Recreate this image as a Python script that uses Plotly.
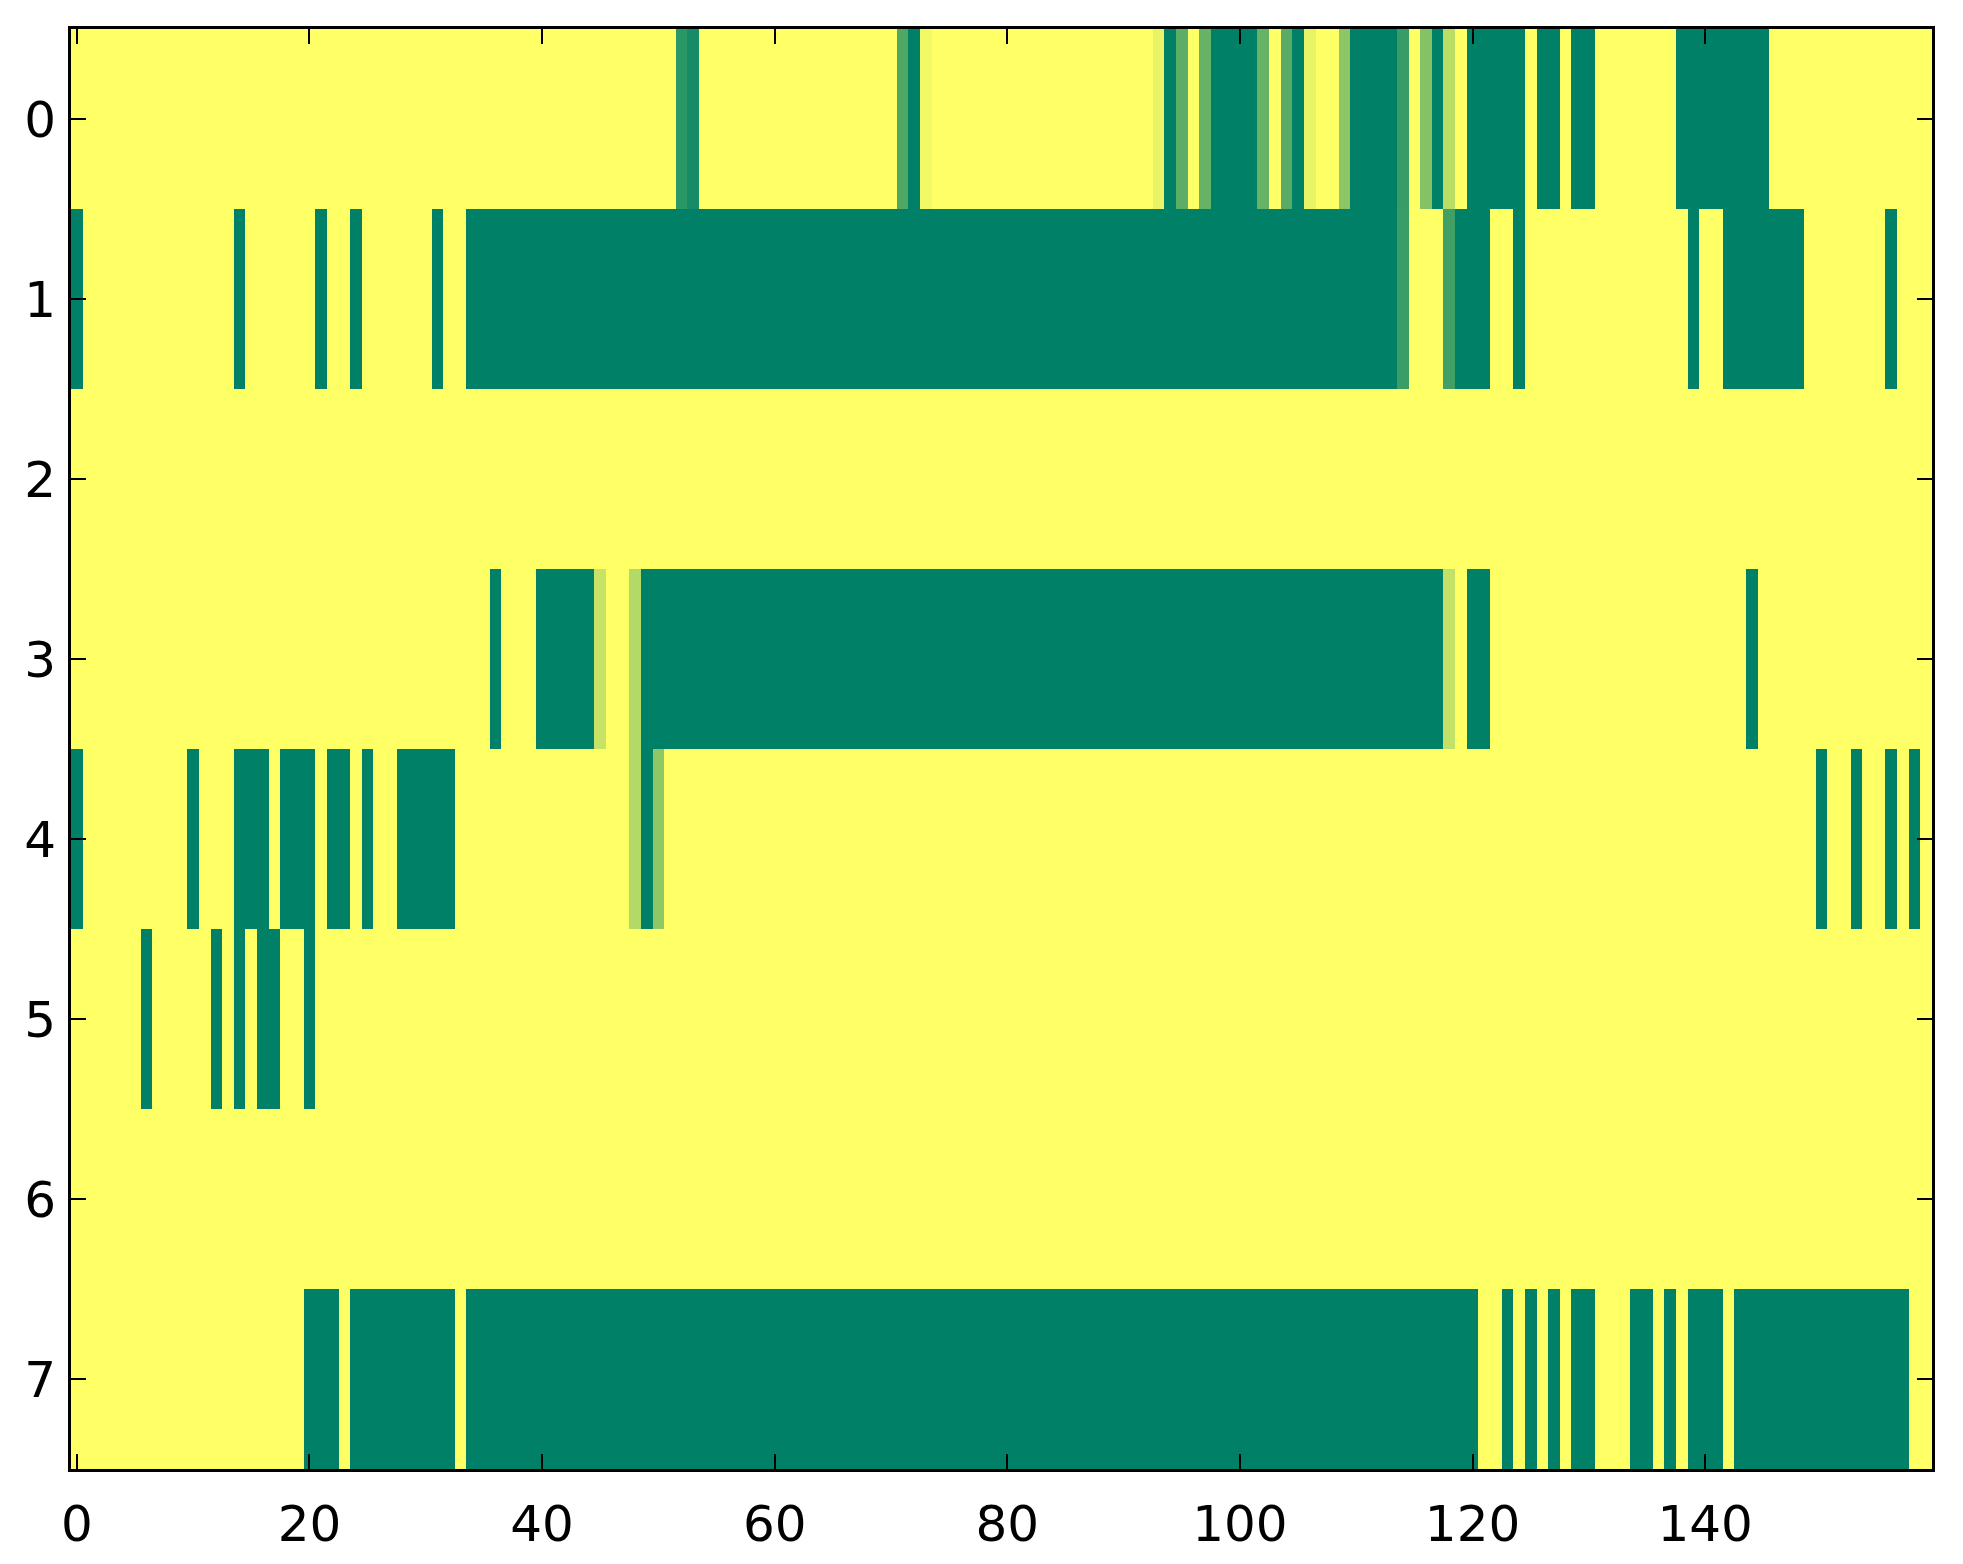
import plotly.graph_objects as go

# Each row is a run-length list of [value, count] (160 columns, 0..159)
row0_runs = [[1, 52], [0.17, 1], [0.09, 1], [1, 17], [0.31, 1], [0, 1], [0.95, 1], [1, 19],
             [0.91, 1], [0, 1], [0.36, 1], [1, 1], [0.4, 1], [0, 4], [0.4, 1], [1, 1], [0.35, 1],
             [0, 1], [0.91, 1], [1, 2], [0.55, 1], [0, 4], [0.22, 1], [1, 1], [0.52, 1], [0, 1],
             [0.73, 1], [1, 1], [0, 5], [1, 1], [0, 2], [1, 1], [0, 2], [1, 7], [0, 8], [1, 14]]
row1_runs = [[0, 1], [1, 13], [0, 1], [1, 6], [0, 1], [1, 2], [0, 1], [1, 6], [0, 1], [1, 2],
             [0, 80], [0.23, 1], [1, 3], [0.25, 1], [0, 3], [1, 2], [0, 1], [1, 14], [0, 1],
             [1, 2], [0, 7], [1, 7], [0, 1], [1, 3]]
row2_runs = [[1, 160]]
row3_runs = [[1, 36], [0, 1], [1, 3], [0, 5], [0.78, 1], [1, 2], [0.7, 1], [0, 69], [0.76, 1],
             [1, 1], [0, 2], [1, 22], [0, 1], [1, 15]]
row4_runs = [[0, 1], [1, 9], [0, 1], [1, 3], [0, 3], [1, 1], [0, 3], [1, 1], [0, 2], [1, 1],
             [0, 1], [1, 2], [0, 5], [1, 15], [0.7, 1], [0, 1], [0.56, 1], [1, 99], [0, 1],
             [1, 2], [0, 1], [1, 2], [0, 1], [1, 1], [0, 1], [1, 1]]
row5_runs = [[1, 6], [0, 1], [1, 5], [0, 1], [1, 1], [0, 1], [1, 1], [0, 2], [1, 2], [0, 1],
             [1, 139]]
row6_runs = [[1, 160]]
row7_runs = [[1, 20], [0, 3], [1, 1], [0, 9], [1, 1], [0, 87], [1, 2], [0, 1], [1, 1], [0, 1],
             [1, 1], [0, 1], [1, 1], [0, 2], [1, 3], [0, 2], [1, 1], [0, 1], [1, 1], [0, 3],
             [1, 1], [0, 15], [1, 2]]

row_labels = [0, 1, 2, 3, 4, 5, 6, 7]
x_tick_vals = [0, 20, 40, 60, 80, 100, 120, 140]


def expand(runs):
    out = []
    for v, n in runs:
        out.extend([v] * n)
    return out


all_runs = [row0_runs, row1_runs, row2_runs, row3_runs, row4_runs, row5_runs, row6_runs, row7_runs]
z = [expand(r) for r in all_runs]
ncols = len(z[0])

summer = [[0.0, "rgb(0,128,102)"], [1.0, "rgb(255,255,102)"]]

fig = go.Figure(go.Heatmap(
    z=z,
    x=list(range(ncols)),
    y=row_labels,
    colorscale=summer,
    zmin=0, zmax=1,
    showscale=False,
    hoverinfo="skip",
))

axis_common = dict(
    showline=True, linecolor="black", linewidth=3, mirror="ticks",
    ticks="inside", ticklen=15, tickwidth=2, tickcolor="black",
    showgrid=False, zeroline=False,
    tickfont=dict(family="DejaVu Sans", size=50, color="black"),
)

# page body has an 8px default margin, so the figure is sized to fit inside the window
fig.update_layout(
    width=1955, height=1556,
    margin=dict(l=63, r=31, t=21, b=95),
    paper_bgcolor="white", plot_bgcolor="white",
    xaxis=dict(range=[-0.5, ncols - 0.5], tickvals=x_tick_vals, ticklabelstandoff=9, **axis_common),
    yaxis=dict(range=[7.5, -0.5], tickvals=row_labels, ticklabelstandoff=2, **axis_common),
)

fig.write_html("out.html")
